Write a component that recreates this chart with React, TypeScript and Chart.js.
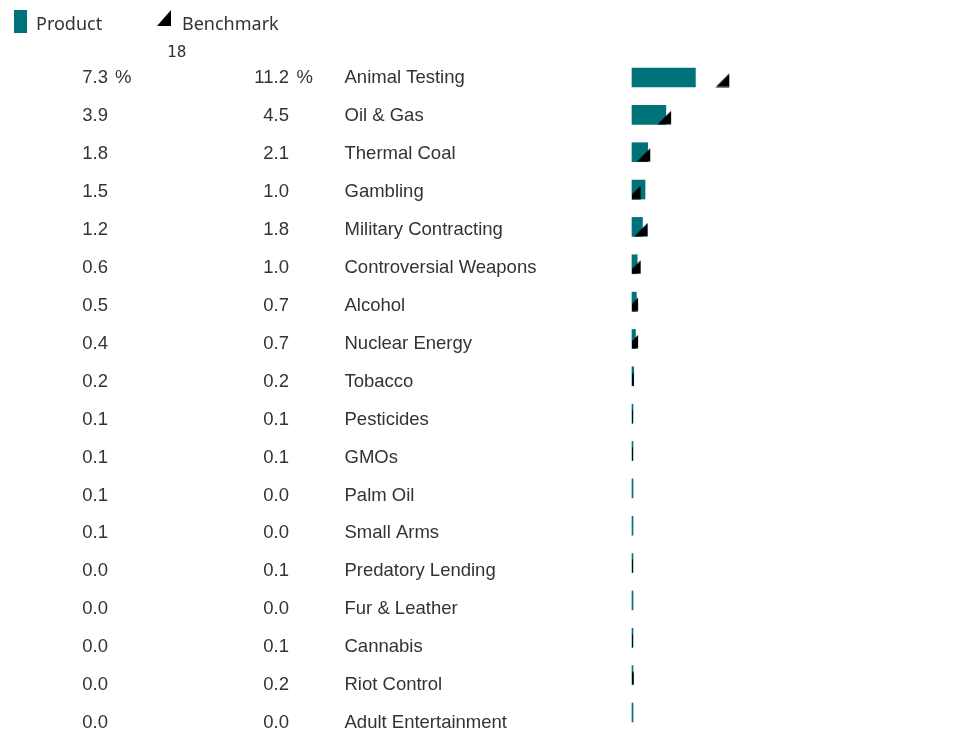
import React, { useEffect, useRef } from "react";
import { Chart, registerables } from "chart.js";

Chart.register(...registerables);

const categories = [
  "Animal Testing",
  "Oil & Gas",
  "Thermal Coal",
  "Gambling",
  "Military Contracting",
  "Controversial Weapons",
  "Alcohol",
  "Nuclear Energy",
  "Tobacco",
  "Pesticides",
  "GMOs",
  "Palm Oil",
  "Small Arms",
  "Predatory Lending",
  "Fur & Leather",
  "Cannabis",
  "Riot Control",
  "Adult Entertainment",
];

const productValues = [7.3, 3.9, 1.8, 1.5, 1.2, 0.6, 0.5, 0.4, 0.2, 0.1, 0.1, 0.1, 0.1, 0.0, 0.0, 0.0, 0.0, 0.0];
const benchmarkValues = [11.2, 4.5, 2.1, 1.0, 1.8, 1.0, 0.7, 0.7, 0.2, 0.1, 0.1, 0.0, 0.0, 0.1, 0.0, 0.1, 0.2, 0.0];

const seriesNames = ["Product", "Benchmark"];
const axisMaxLabel = "18";
const axisMin = 0;
const axisMax = 18;
const unitLabel = "%";

const TEAL = "#00727a";
const TEXT = "#333333";

function makeTriangleMarker(): HTMLCanvasElement {
  // triangle with right angle at bottom-right; right edge on point x, bottom on bar bottom
  const c = document.createElement("canvas");
  c.width = 28;
  c.height = 20;
  const g = c.getContext("2d")!;
  g.fillStyle = "#000";
  g.beginPath();
  g.moveTo(0.5, 19.5);
  g.lineTo(14, 19.5);
  g.lineTo(14, 6);
  g.closePath();
  g.fill();
  return c;
}

const rowTextPlugin = {
  id: "rowText",
  afterDraw(chart: any) {
    const ctx = chart.ctx as CanvasRenderingContext2D;
    const yt = chart.scales.yText;
    ctx.save();
    // legend
    ctx.fillStyle = TEAL;
    ctx.fillRect(14, 10, 13, 23);
    ctx.fillStyle = "#000";
    ctx.beginPath();
    ctx.moveTo(157, 26);
    ctx.lineTo(171, 26);
    ctx.lineTo(171, 10);
    ctx.closePath();
    ctx.fill();
    ctx.fillStyle = TEXT;
    ctx.font = '18px "Noto Sans", "Open Sans", sans-serif';
    ctx.textBaseline = "alphabetic";
    ctx.textAlign = "left";
    ctx.fillText(seriesNames[0], 36, 30);
    ctx.fillText(seriesNames[1], 182, 30);
    // axis max label
    ctx.font = '16px "DejaVu Sans Mono", monospace';
    ctx.fillText(axisMaxLabel, 167, 56.5);
    // row texts
    ctx.font = '18.5px "Liberation Sans", Arial, sans-serif';
    categories.forEach((cat, i) => {
      const y = yt.getPixelForValue(i) + 6.6;
      ctx.textAlign = "right";
      ctx.fillText(productValues[i].toFixed(1), 108, y);
      ctx.fillText(benchmarkValues[i].toFixed(1), 289, y);
      ctx.textAlign = "left";
      if (i === 0) {
        ctx.fillText(unitLabel, 115, y);
        ctx.fillText(unitLabel, 296.5, y);
      }
      ctx.fillText(cat, 344.5, y);
    });
    ctx.restore();
  },
};

export default function App() {
  const canvasRef = useRef<HTMLCanvasElement | null>(null);

  useEffect(() => {
    if (!canvasRef.current) return;
    const marker = makeTriangleMarker();
    const chart = new Chart(canvasRef.current, {
      type: "bar",
      data: {
        labels: categories,
        datasets: [
          {
            type: "bar",
            label: seriesNames[0],
            data: productValues,
            indexAxis: "y",
            backgroundColor: TEAL,
            borderWidth: 0,
            barThickness: 19,
            minBarLength: 1,
            clip: false as any,
            order: 2,
            xAxisID: "x",
            yAxisID: "y",
          } as any,
          {
            type: "line",
            label: seriesNames[1],
            data: benchmarkValues,
            indexAxis: "y",
            showLine: false,
            pointStyle: marker as any,
            pointRadius: 3,
            pointHoverRadius: 3,
            clip: { left: 0, top: false, right: false, bottom: false } as any,
            order: 1,
            xAxisID: "x",
            yAxisID: "y",
          } as any,
        ],
      },
      options: {
        indexAxis: "y",
        animation: false,
        responsive: true,
        maintainAspectRatio: false,
        events: [],
        layout: { padding: { left: 632, right: 171.7, top: 77.5, bottom: 17.5 } },
        plugins: {
          legend: { display: false },
          title: { display: false },
          tooltip: { enabled: false },
        },
        scales: {
          x: { type: "linear", min: axisMin, max: axisMax, display: false, bounds: "data", offset: false },
          y: { type: "category", offset: false, display: false },
          yText: {
            type: "linear",
            axis: "y",
            position: "left",
            reverse: true,
            offset: false,
            min: 0.0211,
            max: 16.762,
            bounds: "data",
            display: false,
          } as any,
        },
      },
      plugins: [rowTextPlugin],
    });
    return () => chart.destroy();
  }, []);

  return (
    <div style={{ position: "absolute", left: 0, top: 0, width: 960, height: 730 }}>
      <canvas ref={canvasRef} />
    </div>
  );
}
